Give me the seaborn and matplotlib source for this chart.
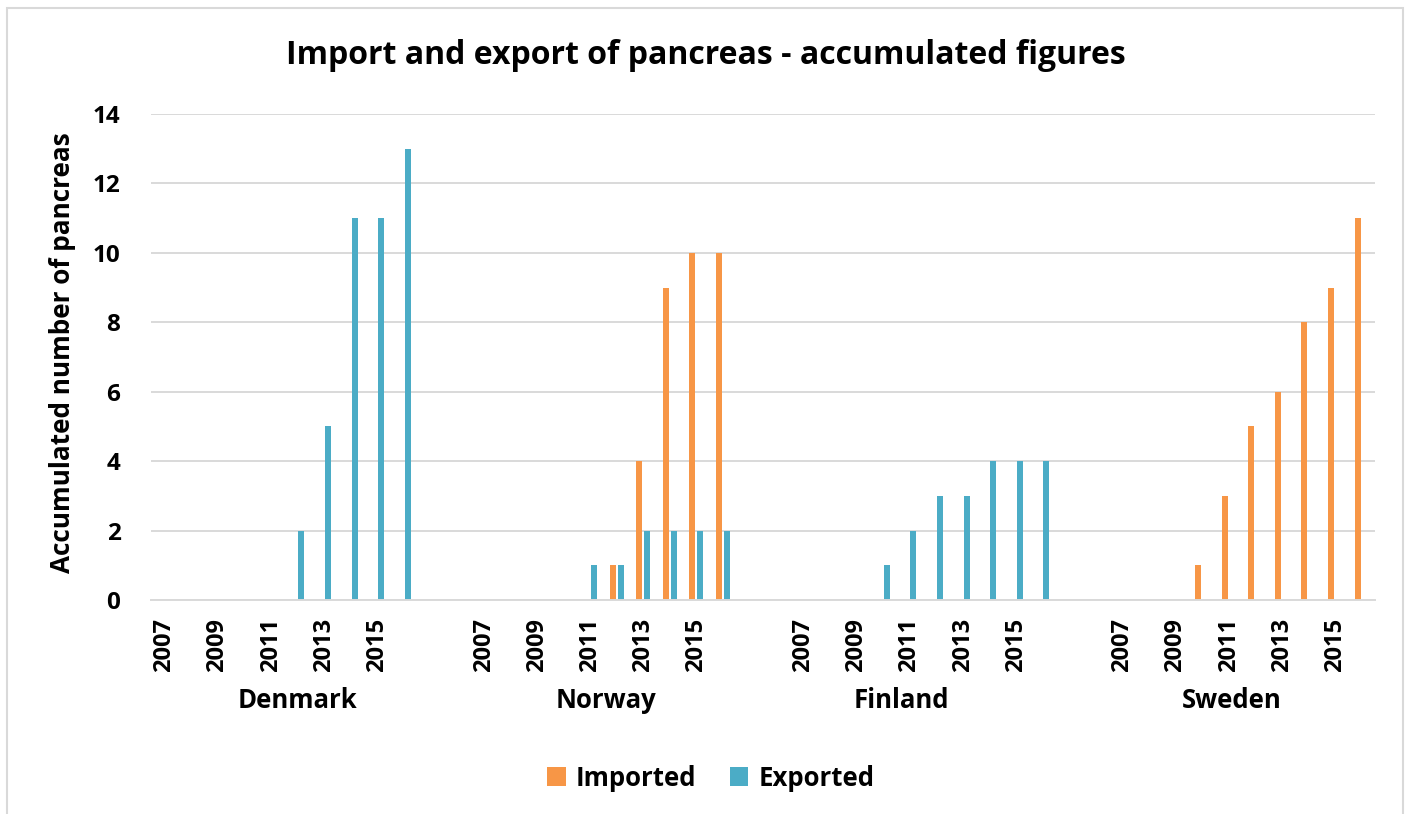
import numpy as np
import pandas as pd
import seaborn as sns
import matplotlib
matplotlib.use("Agg")
import matplotlib.pyplot as plt
import matplotlib.transforms as mtransforms
from matplotlib.patches import Patch, Rectangle

# ---------------- data ----------------
years = [2007, 2008, 2009, 2010, 2011, 2012, 2013, 2014, 2015, 2016]
countries = ["Denmark", "Norway", "Finland", "Sweden"]
series = ["Imported", "Exported"]
tick_years = [2007, 2009, 2011, 2013, 2015]

denmark_imported = [0, 0, 0, 0, 0, 0, 0, 0, 0, 0]
denmark_exported = [0, 0, 0, 0, 0, 2, 5, 11, 11, 13]
norway_imported = [0, 0, 0, 0, 0, 1, 4, 9, 10, 10]
norway_exported = [0, 0, 0, 0, 1, 1, 2, 2, 2, 2]
finland_imported = [0, 0, 0, 0, 0, 0, 0, 0, 0, 0]
finland_exported = [0, 0, 0, 1, 2, 3, 3, 4, 4, 4]
sweden_imported = [0, 0, 0, 1, 3, 5, 6, 8, 9, 11]
sweden_exported = [0, 0, 0, 0, 0, 0, 0, 0, 0, 0]

values = {
    "Denmark": (denmark_imported, denmark_exported),
    "Norway": (norway_imported, norway_exported),
    "Finland": (finland_imported, finland_exported),
    "Sweden": (sweden_imported, sweden_exported),
}

# ---------------- layout / style ----------------
ORANGE = "#F79646"
BLUE = "#4BACC6"
GRID = "#D9D9D9"
GROUP_SLOTS = 12           # 10 years + 2 empty slots between countries
label_offsets = [5.0, 4.6, 3.7, 4.1]
FONT = ["Open Sans", "DejaVu Sans"]

rows = []
for ci, c in enumerate(countries):
    imp, exp = values[c]
    for yi, yr in enumerate(years):
        slot = ci * GROUP_SLOTS + yi
        rows.append({"country": c, "year": yr, "slot": slot, "series": "Imported", "value": imp[yi]})
        rows.append({"country": c, "year": yr, "slot": slot, "series": "Exported", "value": exp[yi]})
df = pd.DataFrame(rows)

sns.set_theme(style="white")
plt.rcParams["font.family"] = FONT
plt.rcParams["font.weight"] = "bold"
plt.rcParams["text.color"] = "black"
plt.rcParams["xtick.color"] = "black"
plt.rcParams["ytick.color"] = "black"

W, H = 1408, 814
fig = plt.figure(figsize=(W / 100, H / 100), dpi=100)
ax = fig.add_axes([151 / W, 1 - 600 / H, (1375 - 151) / W, (600 - 114) / H])

sns.barplot(data=df, x="slot", y="value", hue="series", hue_order=series,
            palette=[ORANGE, BLUE], saturation=1, native_scale=True, width=0.6, gap=0.25,
            linewidth=0, errorbar=None, legend=False, ax=ax)

n_slots = (len(countries) - 1) * GROUP_SLOTS + len(years)
ax.set_xlim(-0.5, n_slots - 0.5)
ax.set_ylim(0, 14)
ax.set_yticks(np.arange(0, 15, 2))
ax.set_yticklabels([str(v) for v in range(0, 15, 2)], fontsize=17.5, fontweight="bold",
                   color="black")

xt, xl = [], []
for ci, c in enumerate(countries):
    for yr in tick_years:
        xt.append(ci * GROUP_SLOTS + years.index(yr))
        xl.append(str(yr))
ax.set_xticks(xt)
ax.set_xticklabels(xl, rotation=90, fontsize=17, fontweight="bold", color="black")
ax.tick_params(axis="x", length=0, pad=13)
ax.tick_params(axis="y", length=0, pad=22)
ax.set_xlabel("")
ax.set_ylabel("")

ax.yaxis.grid(True, color=GRID, linewidth=1.4)
ax.set_axisbelow(True)
for s in ["left", "right", "top"]:
    ax.spines[s].set_visible(False)
ax.spines["bottom"].set_color(GRID)
ax.spines["bottom"].set_linewidth(1.4)

trans = mtransforms.blended_transform_factory(ax.transData, fig.transFigure)
for ci, c in enumerate(countries):
    ax.text(ci * GROUP_SLOTS + label_offsets[ci], 1 - 708 / H, c, transform=trans,
            ha="center", va="baseline", fontsize=18.5, fontweight="bold", color="black")

fig.text(706 / W, 1 - 55 / H, "Import and export of pancreas - accumulated figures",
         ha="center", va="center", fontsize=23, fontweight="bold", color="black")
fig.text(63 / W, 1 - 353 / H, "Accumulated number of pancreas", rotation=90,
         ha="center", va="center", fontsize=18.8, fontweight="bold", color="black")

handles = [Patch(facecolor=ORANGE, edgecolor="none", label="Imported"),
           Patch(facecolor=BLUE, edgecolor="none", label="Exported")]
leg = fig.legend(handles=handles, loc="center", bbox_to_anchor=(711 / W, 1 - 778 / H),
                 ncol=2, frameon=False, fontsize=18.5, handlelength=0.72, handleheight=0.72,
                 handletextpad=0.4, columnspacing=1.3)
for t in leg.get_texts():
    t.set_fontweight("bold")
    t.set_color("black")

fig.patches.append(Rectangle((7 / W, -0.05), (1403 - 7) / W, 1.05 - 8 / H,
                             transform=fig.transFigure, fill=False,
                             edgecolor=GRID, linewidth=1.5))

fig.savefig("out.png", dpi=100)
